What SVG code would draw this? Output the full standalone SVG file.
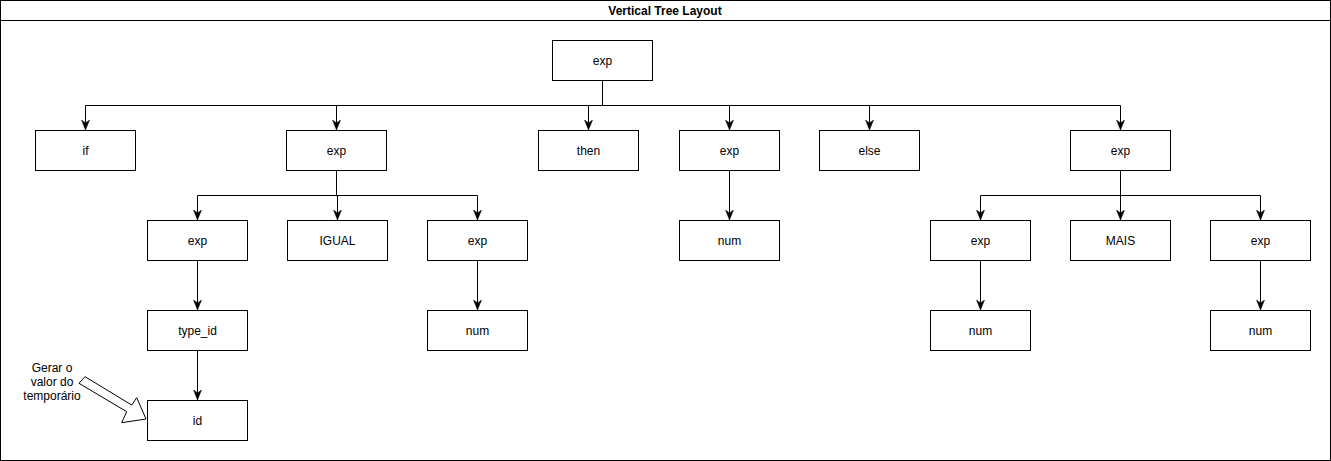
<svg xmlns="http://www.w3.org/2000/svg" width="1331" height="461" viewBox="0 0 1331 461">
<style>
.n rect{fill:#fff;stroke:#000;stroke-width:1}
.n text,.lbl{font-family:"Liberation Sans",Arial,sans-serif;font-size:12px;fill:#000;text-anchor:middle}
.c path{fill:none;stroke:#000;stroke-width:1}
</style>
<defs>
<marker id="ah" viewBox="0 0 10 10" refX="10" refY="5" markerWidth="10" markerHeight="10" markerUnits="userSpaceOnUse" orient="auto">
<path d="M0,1 L10,5 L0,9 L3,5 Z" fill="#000" stroke="#000" stroke-width="0.5"/>
</marker>
</defs>
<g id="container">
<rect x="0.5" y="0.5" width="1330" height="460" fill="#fff" stroke="#000"/>
<line x1="0.5" y1="20.5" x2="1330.5" y2="20.5" stroke="#000"/>
<text x="665" y="15" font-family="'Liberation Sans',Arial,sans-serif" font-size="12" font-weight="bold" text-anchor="middle">Vertical Tree Layout</text>
</g>
<g class="c" id="connectors">
<path d="M602.5,80 V105.5 H85.5 V130" marker-end="url(#ah)"/>
<path d="M602.5,105.5 H336.5 V130" marker-end="url(#ah)"/>
<path d="M602.5,105.5 H588.5 V130" marker-end="url(#ah)"/>
<path d="M602.5,105.5 H729.5 V130" marker-end="url(#ah)"/>
<path d="M602.5,105.5 H869.5 V130" marker-end="url(#ah)"/>
<path d="M602.5,105.5 H1120.5 V130" marker-end="url(#ah)"/>
<path d="M336.5,170 V195.5 H197.5 V220" marker-end="url(#ah)"/>
<path d="M336.5,195.5 H337.5 V220" marker-end="url(#ah)"/>
<path d="M336.5,195.5 H477.5 V220" marker-end="url(#ah)"/>
<path d="M729.5,170 V220" marker-end="url(#ah)"/>
<path d="M1120.5,170 V195.5 H980.5 V220" marker-end="url(#ah)"/>
<path d="M1120.5,195.5 V220" marker-end="url(#ah)"/>
<path d="M1120.5,195.5 H1260.5 V220" marker-end="url(#ah)"/>
<path d="M197.5,260 V310" marker-end="url(#ah)"/>
<path d="M477.5,260 V310" marker-end="url(#ah)"/>
<path d="M980.5,260 V310" marker-end="url(#ah)"/>
<path d="M1260.5,260 V310" marker-end="url(#ah)"/>
<path d="M197.5,350 V400" marker-end="url(#ah)"/>
</g>
<g class="n" id="root"><rect x="552.5" y="40.5" width="100" height="40"/><text x="602.5" y="65">exp</text></g>
<g class="n" id="if"><rect x="35.5" y="130.5" width="100" height="40"/><text x="85.5" y="155">if</text></g>
<g class="n" id="exp1"><rect x="286.5" y="130.5" width="100" height="40"/><text x="336.5" y="155">exp</text></g>
<g class="n" id="then"><rect x="538.5" y="130.5" width="100" height="40"/><text x="588.5" y="155">then</text></g>
<g class="n" id="exp2"><rect x="679.5" y="130.5" width="100" height="40"/><text x="729.5" y="155">exp</text></g>
<g class="n" id="else"><rect x="819.5" y="130.5" width="100" height="40"/><text x="869.5" y="155">else</text></g>
<g class="n" id="exp3"><rect x="1070.5" y="130.5" width="100" height="40"/><text x="1120.5" y="155">exp</text></g>
<g class="n" id="exp11"><rect x="147.5" y="220.5" width="100" height="40"/><text x="197.5" y="245">exp</text></g>
<g class="n" id="igual"><rect x="287.5" y="220.5" width="100" height="40"/><text x="337.5" y="245">IGUAL</text></g>
<g class="n" id="exp12"><rect x="427.5" y="220.5" width="100" height="40"/><text x="477.5" y="245">exp</text></g>
<g class="n" id="num2"><rect x="679.5" y="220.5" width="100" height="40"/><text x="729.5" y="245">num</text></g>
<g class="n" id="exp31"><rect x="930.5" y="220.5" width="100" height="40"/><text x="980.5" y="245">exp</text></g>
<g class="n" id="mais"><rect x="1070.5" y="220.5" width="100" height="40"/><text x="1120.5" y="245">MAIS</text></g>
<g class="n" id="exp32"><rect x="1210.5" y="220.5" width="100" height="40"/><text x="1260.5" y="245">exp</text></g>
<g class="n" id="typeid"><rect x="147.5" y="310.5" width="100" height="40"/><text x="197.5" y="335">type_id</text></g>
<g class="n" id="num12"><rect x="427.5" y="310.5" width="100" height="40"/><text x="477.5" y="335">num</text></g>
<g class="n" id="num31"><rect x="930.5" y="310.5" width="100" height="40"/><text x="980.5" y="335">num</text></g>
<g class="n" id="num32"><rect x="1210.5" y="310.5" width="100" height="40"/><text x="1260.5" y="335">num</text></g>
<g class="n" id="id"><rect x="147.5" y="400.5" width="100" height="40"/><text x="197.5" y="425">id</text></g>
<g id="annotation">
<polygon points="85,376.7 131.7,405 136.7,397.7 146,419 121.7,422.7 126.7,411.7 79,383.3" fill="#fff" stroke="#000" stroke-width="1"/>
<text class="lbl" x="52" y="372">Gerar o</text>
<text class="lbl" x="52" y="386">valor do</text>
<text class="lbl" x="52" y="400">temporário</text>
</g>
</svg>
